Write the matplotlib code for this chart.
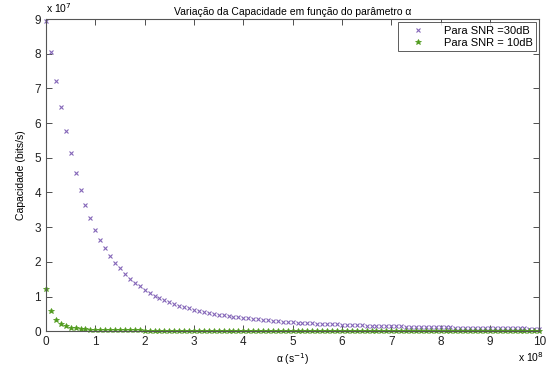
import numpy as np
import matplotlib
matplotlib.use("Agg")
import matplotlib.pyplot as plt

plt.rcParams['font.family'] = ['Liberation Sans', 'DejaVu Sans']

# alpha axis in units of 1e8 s^-1
alpha = [0.0, 0.1, 0.2, 0.3, 0.4, 0.5, 0.6, 0.7, 0.8, 0.9,
         1.0, 1.1, 1.2, 1.3, 1.4, 1.5, 1.6, 1.7, 1.8, 1.9,
         2.0, 2.1, 2.2, 2.3, 2.4, 2.5, 2.6, 2.7, 2.8, 2.9,
         3.0, 3.1, 3.2, 3.3, 3.4, 3.5, 3.6, 3.7, 3.8, 3.9,
         4.0, 4.1, 4.2, 4.3, 4.4, 4.5, 4.6, 4.7, 4.8, 4.9,
         5.0, 5.1, 5.2, 5.3, 5.4, 5.5, 5.6, 5.7, 5.8, 5.9,
         6.0, 6.1, 6.2, 6.3, 6.4, 6.5, 6.6, 6.7, 6.8, 6.9,
         7.0, 7.1, 7.2, 7.3, 7.4, 7.5, 7.6, 7.7, 7.8, 7.9,
         8.0, 8.1, 8.2, 8.3, 8.4, 8.5, 8.6, 8.7, 8.8, 8.9,
         9.0, 9.1, 9.2, 9.3, 9.4, 9.5, 9.6, 9.7, 9.8, 9.9,
         10.0]

# capacity in units of 1e7 bits/s
cap_30dB = [8.95, 8.05, 7.22, 6.45, 5.76, 5.13, 4.57, 4.07, 3.64, 3.26,
            2.93, 2.64, 2.40, 2.18, 1.98, 1.81, 1.66, 1.52, 1.40, 1.29,
            1.20, 1.11, 1.03, 0.96, 0.90, 0.84, 0.79, 0.74, 0.70, 0.66,
            0.62, 0.59, 0.56, 0.53, 0.50, 0.48, 0.46, 0.44, 0.42, 0.40,
            0.38, 0.37, 0.35, 0.34, 0.33, 0.31, 0.30, 0.29, 0.28, 0.27,
            0.26, 0.25, 0.245, 0.24, 0.23, 0.22, 0.215, 0.21, 0.20, 0.195,
            0.19, 0.185, 0.18, 0.175, 0.17, 0.165, 0.16, 0.157, 0.153, 0.15,
            0.146, 0.142, 0.139, 0.136, 0.133, 0.13, 0.127, 0.124, 0.121, 0.118,
            0.115, 0.112, 0.11, 0.107, 0.105, 0.103, 0.10, 0.098, 0.096, 0.094,
            0.092, 0.09, 0.088, 0.086, 0.084, 0.082, 0.08, 0.079, 0.077, 0.076,
            0.074]

cap_10dB = [1.21, 0.57, 0.33, 0.20, 0.14, 0.10, 0.08, 0.065, 0.055, 0.048,
            0.042, 0.038, 0.035, 0.032, 0.030, 0.028, 0.026, 0.025, 0.023, 0.022,
            0.021, 0.020, 0.019, 0.018, 0.0175, 0.017, 0.016, 0.0155, 0.015, 0.0145,
            0.014, 0.0135, 0.013, 0.0127, 0.0124, 0.012, 0.0117, 0.0114, 0.011, 0.0108,
            0.0105, 0.0102, 0.010, 0.0098, 0.0096, 0.0093, 0.0091, 0.0089, 0.0087, 0.0086,
            0.0084, 0.0082, 0.0081, 0.0079, 0.0078, 0.0076, 0.0075, 0.0074, 0.0072, 0.0071,
            0.0070, 0.0069, 0.0068, 0.0067, 0.0066, 0.0065, 0.0064, 0.0063, 0.0062, 0.0061,
            0.0060, 0.0059, 0.0058, 0.0058, 0.0057, 0.0056, 0.0055, 0.0055, 0.0054, 0.0053,
            0.0053, 0.0052, 0.0051, 0.0051, 0.0050, 0.0049, 0.0049, 0.0048, 0.0048, 0.0047,
            0.0047, 0.0046, 0.0046, 0.0045, 0.0045, 0.0044, 0.0044, 0.0043, 0.0043, 0.0042,
            0.0042]

xticks = [0, 1, 2, 3, 4, 5, 6, 7, 8, 9, 10]
yticks = [0, 1, 2, 3, 4, 5, 6, 7, 8, 9]

fig = plt.figure(figsize=(5.48, 3.66), dpi=100)
ax = fig.add_axes([0.084, 0.095, 0.900, 0.853])

ax.plot(alpha, cap_30dB, linestyle='none', marker='x', markersize=3.4,
        markeredgewidth=0.8, color='#8466b8', label='Para SNR =30dB',
        clip_on=False)
ax.plot(alpha, cap_10dB, linestyle='none', marker='*', markersize=4.0,
        markeredgewidth=0.5, color='#4f9a1c', label='Para SNR = 10dB',
        clip_on=False)

ax.set_xlim(0, 10)
ax.set_ylim(0, 9)
ax.set_xticks(xticks)
ax.set_yticks(yticks)
ax.tick_params(direction='in', length=4, width=0.6, labelsize=8.5,
               top=True, right=True, colors='#333333', labelcolor='#222222')
for s in ax.spines.values():
    s.set_linewidth(0.8)
    s.set_color('#555555')

ax.set_title('Variação da Capacidade em função do parâmetro α', fontsize=7.5, pad=3)
ax.set_xlabel('α (s$^{-1}$)', fontsize=7.5, labelpad=2)
ax.set_ylabel('Capacidade (bits/s)', fontsize=7.5, labelpad=6)

# MATLAB style exponent labels
ax.text(0.0, 1.012, 'x 10$^{7}$', transform=ax.transAxes, fontsize=7.5,
        ha='left', va='bottom')
ax.text(1.01, -0.06, 'x 10$^{8}$', transform=ax.transAxes, fontsize=7.5,
        ha='right', va='top')

leg = ax.legend(loc='upper right', fontsize=8, frameon=True, fancybox=False,
                borderpad=0.3, handlelength=3.0, handletextpad=0.8,
                borderaxespad=0.3, labelspacing=0.2)
leg.get_frame().set_edgecolor('#333333')
leg.get_frame().set_linewidth(0.7)

fig.savefig('out.png', dpi=100)
